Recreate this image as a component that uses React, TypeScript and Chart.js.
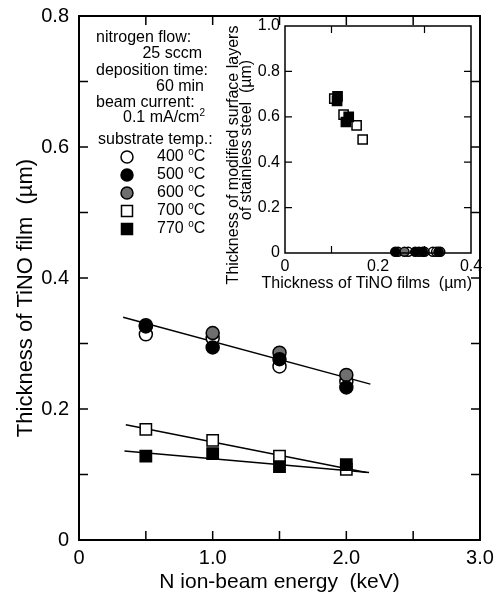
import React, { useEffect, useRef } from 'react';
import { Chart, registerables } from 'chart.js';

Chart.register(...registerables);

const FONT = '"Liberation Sans", Arial, Helvetica, sans-serif';

// ---- main plot data ----
const energies = [0.5, 1.0, 1.5, 2.0];
const t400 = [0.314, 0.308, 0.265, 0.242];
const t500 = [0.326, 0.294, 0.276, 0.233];
const t600 = [0.328, 0.316, 0.286, 0.252];
const t700 = [0.169, 0.152, 0.128, 0.108];
const t770 = [0.128, 0.132, 0.112, 0.115];

// fitted lines (end points)
const fitCirclesX = [0.33, 2.18];
const fitCirclesY = [0.34, 0.238];
const fit700X = [0.35, 2.15];
const fit700Y = [0.176, 0.103];
const fit770X = [0.34, 2.17];
const fit770Y = [0.136, 0.103];

const tempLabels = ['400', '500', '600', '700', '770'];

const xTickVals = [0, 1, 2, 3];
const xTickLabels = ['0', '1.0', '2.0', '3.0'];
const yTickVals = [0, 0.2, 0.4, 0.6, 0.8];
const yTickLabels = ['0', '0.2', '0.4', '0.6', '0.8'];
const xMinorMain = [0.5, 1.0, 1.5, 2.0, 2.5];
const yMinorMain = [0.1, 0.2, 0.3, 0.4, 0.5, 0.6, 0.7];

const mainXTitle = 'N ion-beam energy  (keV)';
const mainYTitle = 'Thickness of TiNO film  (\u00b5m)';

// ---- inset data ----
const in700X = [0.106, 0.126, 0.154, 0.167];
const in700Y = [0.68, 0.61, 0.562, 0.5];
const in770X = [0.113, 0.112, 0.131, 0.137];
const in770Y = [0.69, 0.67, 0.577, 0.6];
const in400X = [0.265, 0.288, 0.318, 0.325];
const in400Y = [0.005, 0.005, 0.005, 0.005];
const in500X = [0.237, 0.28, 0.296, 0.33];
const in500Y = [0.005, 0.005, 0.005, 0.005];
const in600X = [0.243, 0.257, 0.3, 0.334];
const in600Y = [0.005, 0.005, 0.005, 0.005];

const inXTickVals = [0, 0.2, 0.4];
const inXTickLabels = ['0', '0.2', '0.4'];
const inYTickVals = [0, 0.2, 0.4, 0.6, 0.8, 1.0];
const inYTickLabels = ['0', '0.2', '0.4', '0.6', '0.8', '1.0'];
const inXMinor = [0.1, 0.3];
const inYMinor = [0.2, 0.4, 0.6, 0.8];

const inXTitle = 'Thickness of TiNO films  (\u00b5m)';
const inYTitle = ['Thickness of modified surface layers', 'of stainless steel  (\u00b5m)'];

const pts = (xs: number[], ys: number[]) => xs.map((x, i) => ({ x, y: ys[i] }));

const GRAY = '#6f6f6f';

const frameTicks = {
  id: 'frameTicks',
  afterDatasetsDraw(chart: any, _args: any, opts: any) {
    const { ctx, chartArea: a, scales } = chart;
    ctx.save();
    ctx.strokeStyle = '#000';
    ctx.lineWidth = opts.frameWidth;
    ctx.strokeRect(a.left, a.top, a.right - a.left, a.bottom - a.top);
    ctx.lineWidth = opts.tickWidth;
    const L = opts.len;
    ctx.beginPath();
    for (const v of opts.xt) {
      const p = scales.x.getPixelForValue(v);
      ctx.moveTo(p, a.top); ctx.lineTo(p, a.top + L);
      ctx.moveTo(p, a.bottom); ctx.lineTo(p, a.bottom - L);
    }
    for (const v of opts.yt) {
      const p = scales.y.getPixelForValue(v);
      ctx.moveTo(a.left, p); ctx.lineTo(a.left + L, p);
      ctx.moveTo(a.right, p); ctx.lineTo(a.right - L, p);
    }
    ctx.stroke();
    ctx.restore();
  },
};

// free-positioned axis titles (Chart.js squeezes titles to the axis length)
const freeTitles = {
  id: 'freeTitles',
  afterDraw(chart: any, _args: any, opts: any) {
    const { ctx, chartArea: a } = chart;
    ctx.save();
    ctx.fillStyle = '#000';
    ctx.textBaseline = 'alphabetic';
    for (const t of opts.items) {
      ctx.font = `${t.size}px ${FONT}`;
      ctx.save();
      const x = t.fromRight !== undefined ? a.right - t.fromRight : a.left + t.dx;
      const y = t.fromBottom !== undefined ? a.bottom + t.fromBottom : a.top + t.dy;
      ctx.translate(x, y);
      if (t.rotate) ctx.rotate(-Math.PI / 2);
      ctx.textAlign = t.align;
      ctx.fillText(t.text, 0, 0);
      ctx.restore();
    }
    ctx.restore();
  },
};

function richWidth(ctx: CanvasRenderingContext2D, segs: any[], size: number) {
  let w = 0;
  for (const s of segs) {
    ctx.font = `${s.sup ? Math.round(size * 0.62) : size}px ${FONT}`;
    w += ctx.measureText(s.t).width;
  }
  return w;
}
function richText(ctx: CanvasRenderingContext2D, segs: any[], x: number, y: number, size: number, align: string) {
  let cx = align === 'right' ? x - richWidth(ctx, segs, size) : x;
  for (const s of segs) {
    ctx.font = `${s.sup ? Math.round(size * 0.62) : size}px ${FONT}`;
    ctx.fillText(s.t, cx, s.sup ? y - size * 0.32 : y);
    cx += ctx.measureText(s.t).width;
  }
}

const legendBlock = {
  id: 'legendBlock',
  afterDraw(chart: any) {
    const { ctx } = chart;
    ctx.save();
    ctx.fillStyle = '#000';
    ctx.textBaseline = 'middle';
    ctx.textAlign = 'left';
    const S = 16;
    richText(ctx, [{ t: 'nitrogen flow:' }], 96, 38, S, 'left');
    richText(ctx, [{ t: '25 sccm' }], 202, 54, S, 'right');
    richText(ctx, [{ t: 'deposition time:' }], 96, 71, S, 'left');
    richText(ctx, [{ t: '60 min' }], 204, 87, S, 'right');
    richText(ctx, [{ t: 'beam current:' }], 96, 103, S, 'left');
    richText(ctx, [{ t: '0.1 mA/cm' }, { t: '2', sup: true }], 205, 118, S, 'right');
    richText(ctx, [{ t: 'substrate temp.:' }], 98, 140, S, 'left');
    const rowsY = [157, 175, 193, 211, 229];
    const ds = chart.data.datasets;
    for (let i = 0; i < 5; i++) {
      const d = ds[i];
      const y = rowsY[i];
      const x = 127;
      ctx.fillStyle = d.backgroundColor;
      ctx.strokeStyle = '#000';
      ctx.lineWidth = 1.5;
      ctx.beginPath();
      if (d.pointStyle === 'rect') ctx.rect(x - 5.5, y - 5.5, 11, 11);
      else ctx.arc(x, y, 6, 0, Math.PI * 2);
      ctx.fill();
      ctx.stroke();
      ctx.fillStyle = '#000';
      richText(ctx, [{ t: d.label + ' ' }, { t: 'o', sup: true }, { t: 'C' }], 157, y, S, 'left');
    }
    ctx.restore();
  },
};

const fitScale = (w?: number, h?: number) => (s: any) => {
  if (w !== undefined) s.width = w;
  if (h !== undefined) s.height = h;
  s.paddingLeft = 0; s.paddingRight = 0; s.paddingTop = 0; s.paddingBottom = 0;
};

export default function App() {
  const mainRef = useRef<HTMLCanvasElement>(null);
  const insetRef = useRef<HTMLCanvasElement>(null);

  useEffect(() => {
    Chart.defaults.font.family = FONT;
    Chart.defaults.color = '#000';

    const circle = (label: string, data: any, fill: string, order: number, r: number) => ({
      label, data, pointStyle: 'circle', backgroundColor: fill, borderColor: '#000', borderWidth: 1.5,
      pointRadius: r, showLine: false, order, clip: false,
    });
    const square = (label: string, data: any, fill: string, order: number, r: number) => ({
      label, data, pointStyle: 'rect', backgroundColor: fill, borderColor: '#000', borderWidth: 1.5,
      pointRadius: r, showLine: false, order, clip: false,
    });
    const fitLine = (data: any, order: number) => ({
      label: 'fit', data, showLine: true, pointRadius: 0, borderColor: '#000', borderWidth: 1.5,
      backgroundColor: '#000', order, clip: false, fill: false,
    });

    const main = new Chart(mainRef.current!, {
      type: 'scatter',
      data: {
        datasets: [
          circle(tempLabels[0], pts(energies, t400), '#fff', 3, 6.5),
          circle(tempLabels[1], pts(energies, t500), '#000', 1, 6.5),
          circle(tempLabels[2], pts(energies, t600), GRAY, 2, 6.5),
          square(tempLabels[3], pts(energies, t700), '#fff', 5, 8),
          square(tempLabels[4], pts(energies, t770), '#000', 4, 8),
          fitLine(pts(fitCirclesX, fitCirclesY), 10),
          fitLine(pts(fit700X, fit700Y), 11),
          fitLine(pts(fit770X, fit770Y), 12),
        ] as any,
      },
      options: {
        animation: false,
        responsive: false,
        devicePixelRatio: 1,
        layout: { padding: { top: 16, right: 14, bottom: 0, left: 0 } },
        plugins: {
          legend: { display: false },
          tooltip: { enabled: false },
          frameTicks: { frameWidth: 2, tickWidth: 1.5, len: 9, xt: xMinorMain, yt: yMinorMain },
          freeTitles: {
            items: [
              { text: mainYTitle, size: 22, rotate: true, align: 'center', dx: -47, dy: 282 },
            ],
          },
        } as any,
        scales: {
          x: {
            type: 'linear', min: 0, max: 3, position: 'bottom',
            grid: { display: false, drawTicks: false }, border: { display: false },
            afterBuildTicks: (s: any) => { s.ticks = xTickVals.map((v) => ({ value: v })); },
            afterFit: fitScale(undefined, 53),
            ticks: {
              font: { size: 20 }, padding: 6, maxRotation: 0, autoSkip: false,
              callback: (_v: any, i: number) => xTickLabels[i],
            },
            title: { display: true, text: mainXTitle, font: { size: 21, lineHeight: 1 }, padding: { top: 0, bottom: 0 } },
          },
          y: {
            type: 'linear', min: 0, max: 0.8, position: 'left',
            grid: { display: false, drawTicks: false }, border: { display: false },
            afterBuildTicks: (s: any) => { s.ticks = yTickVals.map((v) => ({ value: v })); },
            afterFit: fitScale(79, undefined),
            ticks: {
              font: { size: 20 }, padding: 10, autoSkip: false,
              callback: (_v: any, i: number) => yTickLabels[i],
            },
            title: { display: false, text: mainYTitle },
          },
        } as any,
      },
      plugins: [frameTicks, legendBlock, freeTitles],
    });

    const inset = new Chart(insetRef.current!, {
      type: 'scatter',
      data: {
        datasets: [
          circle('400', pts(in400X, in400Y), '#fff', 3, 4.5),
          circle('500', pts(in500X, in500Y), '#000', 1, 4.5),
          circle('600', pts(in600X, in600Y), GRAY, 2, 4.5),
          square('700', pts(in700X, in700Y), '#fff', 5, 6.5),
          square('770', pts(in770X, in770Y), '#000', 4, 6.5),
        ] as any,
      },
      options: {
        animation: false,
        responsive: false,
        devicePixelRatio: 1,
        layout: { padding: { top: 16, right: 19, bottom: 0, left: 0 } },
        plugins: {
          legend: { display: false },
          tooltip: { enabled: false },
          frameTicks: { frameWidth: 1.5, tickWidth: 1.2, len: 7, xt: inXMinor, yt: inYMinor },
          freeTitles: {
            items: [
              { text: inXTitle, size: 16, rotate: false, align: 'right', fromRight: -1, fromBottom: 35 },
              { text: inYTitle[0], size: 16, rotate: true, align: 'center', dx: -47, dy: 129 },
              { text: inYTitle[1], size: 16, rotate: true, align: 'center', dx: -34, dy: 114 },
            ],
          },
        } as any,
        scales: {
          x: {
            type: 'linear', min: 0, max: 0.4, position: 'bottom',
            grid: { display: false, drawTicks: false }, border: { display: false },
            afterBuildTicks: (s: any) => { s.ticks = inXTickVals.map((v) => ({ value: v })); },
            afterFit: fitScale(undefined, 47),
            ticks: {
              font: { size: 16 }, padding: 4, maxRotation: 0, autoSkip: false,
              callback: (_v: any, i: number) => inXTickLabels[i],
            },
            title: { display: false, text: inXTitle },
          },
          y: {
            type: 'linear', min: 0, max: 1.0, position: 'left',
            grid: { display: false, drawTicks: false }, border: { display: false },
            afterBuildTicks: (s: any) => { s.ticks = inYTickVals.map((v) => ({ value: v })); },
            afterFit: fitScale(95, undefined),
            ticks: {
              font: { size: 16 }, padding: 5, autoSkip: false,
              callback: (_v: any, i: number) => inYTickLabels[i],
            },
            title: { display: false, text: inYTitle },
          },
        } as any,
      },
      plugins: [frameTicks, freeTitles],
    });

    return () => {
      main.destroy();
      inset.destroy();
    };
  }, []);

  return (
    <div style={{ position: 'absolute', left: 0, top: 0, width: 494, height: 593, background: '#fff' }}>
      <canvas ref={mainRef} width={494} height={593}
        style={{ position: 'absolute', left: 0, top: 0, width: 494, height: 593 }} />
      <canvas ref={insetRef} width={300} height={290}
        style={{ position: 'absolute', left: 190, top: 10, width: 300, height: 290 }} />
    </div>
  );
}
